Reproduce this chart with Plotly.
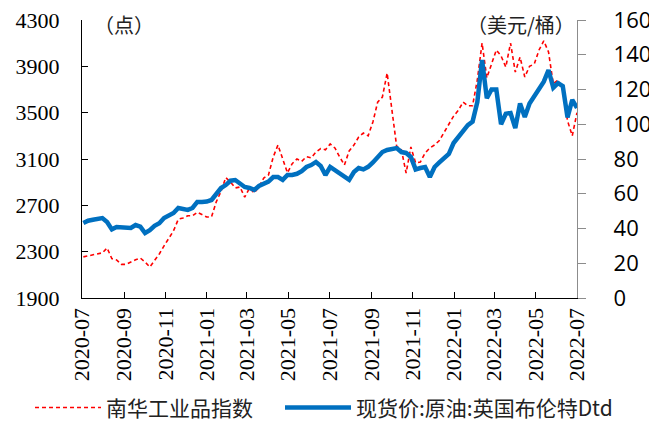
import pandas as pd
import plotly.graph_objects as go

# weekly observations, 2020-07-03 .. 2022-07-01
dates = pd.date_range("2020-07-03", periods=105, freq="7D")

# 南华工业品指数 (点)
nanhua = [2255, 2263, 2270, 2278, 2290, 2332, 2240, 2228, 2190, 2190,
          2211, 2230, 2245, 2211, 2168, 2220, 2280, 2350, 2418, 2480,
          2580, 2591, 2610, 2610, 2640, 2617, 2599, 2600, 2730, 2820,
          2940, 2901, 2850, 2858, 2770, 2850, 2806, 2860, 2936, 2962,
          3117, 3221, 3091, 2980, 3060, 3100, 3080, 3120, 3110, 3160,
          3190, 3180, 3230, 3195, 3117, 3048, 3170, 3220, 3290, 3324,
          3300, 3420, 3590, 3635, 3842, 3523, 3210, 3180, 2979, 3204,
          3066, 3074, 3152, 3195, 3221, 3260, 3330, 3410, 3470, 3520,
          3592, 3560, 3560, 3782, 4101, 3800, 3920, 4041, 3990, 3894,
          4101, 3850, 3980, 3808, 3900, 3920, 4041, 4120, 4024, 3750,
          3782, 3700, 3430, 3300, 3500]

# 现货价:原油:英国布伦特Dtd (美元/桶)
brent = [43.2, 44.5, 45.0, 45.2, 46.0, 43.7, 39.5, 40.9, 40.5, 40.3,
         40.3, 42.0, 41.0, 37.4, 39.0, 41.5, 43.0, 46.0, 47.8, 48.9,
         51.8, 51.0, 50.7, 51.8, 55.3, 55.3, 55.5, 56.4, 60.4, 63.3,
         65.0, 67.5, 67.9, 65.5, 63.9, 63.3, 62.2, 64.5, 66.0, 67.0,
         69.6, 69.6, 68.0, 70.8, 70.8, 71.5, 73.0, 75.4, 76.5, 78.3,
         76.0, 70.8, 75.4, 73.7, 72.0, 70.0, 68.0, 72.5, 74.8, 74.0,
         75.5, 78.0, 81.5, 84.0, 85.2, 85.5, 86.3, 84.0, 83.5, 81.2,
         74.0, 74.8, 75.4, 69.6, 75.4, 78.0, 80.5, 83.0, 89.2, 92.5,
         95.5, 99.5, 101.5, 112.8, 137.0, 115.0, 120.0, 120.0, 100.0, 106.0,
         106.5, 97.8, 112.0, 104.2, 112.0, 116.5, 120.5, 124.5, 131.2, 121.0,
         123.7, 122.0, 104.0, 114.0, 109.4]

SERIF = "Liberation Serif"
CJK = "Noto Sans CJK SC"

fig = go.Figure()
fig.add_trace(go.Scatter(
    x=dates, y=nanhua, name="南华工业品指数", mode="lines",
    line=dict(color="#FF0000", width=1.6, dash="4px,3px"),
    legend="legend",
))
fig.add_trace(go.Scatter(
    x=dates, y=brent, name="现货价:原油:英国布伦特Dtd", mode="lines",
    line=dict(color="#0070C0", width=4.5),
    yaxis="y2", legend="legend2",
))

legend_style = dict(
    orientation="h", y=-0.395, xanchor="left", yanchor="middle",
    font=dict(family=CJK, size=21, color="#222"),
    itemwidth=66, bgcolor="rgba(0,0,0,0)",
)

# page body has an 8px margin, so the figure is drawn 8px in from the corner
fig.update_layout(
    width=649, height=413,
    margin=dict(l=74, r=80, t=12, b=123, autoexpand=False),
    paper_bgcolor="white", plot_bgcolor="white",
    showlegend=True,
    legend=dict(x=-0.105, **legend_style),
    legend2=dict(x=0.4, **legend_style),
    xaxis=dict(
        type="date", range=["2020-07-01", "2022-07-01"],
        tick0="2020-07-01", dtick="M2", tickformat="%Y-%m",
        tickangle=-90, ticks="inside", ticklen=6, tickcolor="black",
        showline=True, linecolor="black", linewidth=1.3,
        showgrid=False, zeroline=False, automargin=False,
        tickfont=dict(family=SERIF, size=22, color="black"),
    ),
    yaxis=dict(
        range=[1900, 4300], dtick=400, tick0=1900,
        ticks="inside", ticklen=6, tickcolor="black",
        showline=True, linecolor="black", linewidth=1.3,
        showgrid=False, zeroline=False, ticklabelstandoff=17,
        automargin=False, ticklabeloverflow="allow",
        tickfont=dict(family=SERIF, size=22, color="black"),
    ),
    yaxis2=dict(
        overlaying="y", side="right", range=[0, 160], dtick=20,
        ticks="outside", ticklen=8, tickcolor="#8c8c8c",
        showline=True, linecolor="#8c8c8c", linewidth=1.3,
        showgrid=False, zeroline=False, ticklabelstandoff=23,
        automargin=False, ticklabeloverflow="allow",
        tickfont=dict(family="Open Sans", size=22, color="black"),
    ),
    annotations=[
        dict(text="（点）", xref="paper", yref="paper", x=0.02, y=0.985,
             xanchor="left", yanchor="middle", showarrow=False,
             font=dict(family=CJK, size=20, color="#222")),
        dict(text="（美元/桶）", xref="paper", yref="paper", x=1.0, y=0.985,
             xanchor="right", yanchor="middle", showarrow=False,
             font=dict(family=CJK, size=20, color="#222")),
    ],
)

fig.write_html("out.html")
